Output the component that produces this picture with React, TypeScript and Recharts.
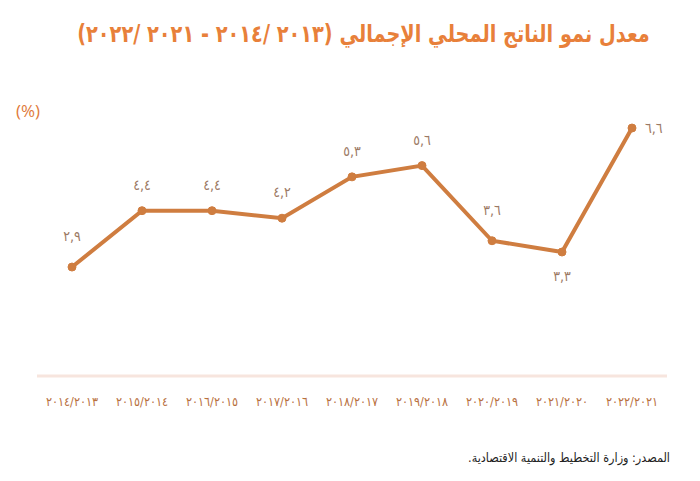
import React from "react";
import { LineChart, Line, XAxis, YAxis, LabelList } from "recharts";

const categories = [
  "٢٠١٤/٢٠١٣",
  "٢٠١٥/٢٠١٤",
  "٢٠١٦/٢٠١٥",
  "٢٠١٧/٢٠١٦",
  "٢٠١٨/٢٠١٧",
  "٢٠١٩/٢٠١٨",
  "٢٠٢٠/٢٠١٩",
  "٢٠٢١/٢٠٢٠",
  "٢٠٢٢/٢٠٢١",
];
const growth = [2.9, 4.4, 4.4, 4.2, 5.3, 5.6, 3.6, 3.3, 6.6];
const growthLabels = ["٢,٩", "٤,٤", "٤,٤", "٤,٢", "٥,٣", "٥,٦", "٣,٦", "٣,٣", "٦,٦"];

const title = "معدل نمو الناتج المحلي الإجمالي (٢٠١٣ /٢٠١٤ - ٢٠٢١ /٢٠٢٢)";
const unitLabel = "(%)";
const sourceText = "المصدر: وزارة التخطيط والتنمية الاقتصادية.";

const data = categories.map((c, i) => ({ name: c, value: growth[i], label: growthLabels[i] }));

const ARABIC_FONT = "'DejaVu Sans Condensed', 'DejaVu Sans', sans-serif";

// index of the lowest interior point: its label goes below the line
const interior = growth.slice(1, -1);
const lowIndex = interior.indexOf(Math.min(...interior)) + 1;

const ValueLabel = (props: any) => {
  const { x, y, index } = props;
  const n = growth.length;
  let tx = x;
  let ty = y - 21;
  let anchor: any = "middle";
  if (index === n - 1) {
    tx = x + 13;
    ty = y + 5;
    anchor = "start";
  } else if (index === lowIndex) {
    ty = y + 29;
  } else if (index === 0 || index === lowIndex - 1) {
    ty = y - 26;
  }
  return (
    <text
      x={tx}
      y={ty}
      textAnchor={anchor}
      fill="#9c7a64"
      fontSize={14}
      fontFamily={ARABIC_FONT}
      letterSpacing={4}
    >
      {growthLabels[index]}
    </text>
  );
};

export default function App() {
  return (
    <div style={{ position: "absolute", left: 0, top: 0, width: 700, height: 481, background: "#fff" }}>
      <div
        dir="rtl"
        style={{
          position: "absolute",
          right: 50,
          top: 20,
          fontFamily: ARABIC_FONT,
          fontWeight: "bold",
          fontSize: 24,
          color: "#E8803A",
          whiteSpace: "nowrap",
          transform: "scaleX(0.895)",
          transformOrigin: "right center",
        }}
      >
        {title}
      </div>
      <div
        style={{
          position: "absolute",
          left: 16,
          top: 99,
          fontFamily: "'Open Sans', sans-serif",
          fontSize: 17,
          color: "#E07A3A",
        }}
      >
        {unitLabel}
      </div>
      <div
        dir="rtl"
        style={{
          position: "absolute",
          right: 30,
          top: 450,
          fontFamily: ARABIC_FONT,
          fontSize: 12.5,
          color: "#222",
          whiteSpace: "nowrap",
        }}
      >
        {sourceText}
      </div>
      <div style={{ position: "absolute", left: 0, top: 0 }}>
        <LineChart
          width={700}
          height={481}
          data={data}
          margin={{ top: 113, right: 33, bottom: 75, left: 37 }}
        >
          <XAxis
            dataKey="name"
            axisLine={{ stroke: "#F7E5DE", strokeWidth: 3 }}
            tickLine={false}
            height={30}
            interval={0}
            padding={{ left: 35, right: 35 }}
            tick={{ fill: "#B8703E", fontSize: 12.5, fontFamily: ARABIC_FONT }}
            tickMargin={15}
          />
          <YAxis hide domain={[0, 7]} />
          <Line
            type="linear"
            dataKey="value"
            stroke="#CF7D40"
            strokeWidth={4}
            dot={{ r: 4, fill: "#CF7D40", stroke: "#CF7D40", strokeWidth: 1 }}
            isAnimationActive={false}
          >
            <LabelList dataKey="label" content={<ValueLabel />} />
          </Line>
        </LineChart>
      </div>
    </div>
  );
}
